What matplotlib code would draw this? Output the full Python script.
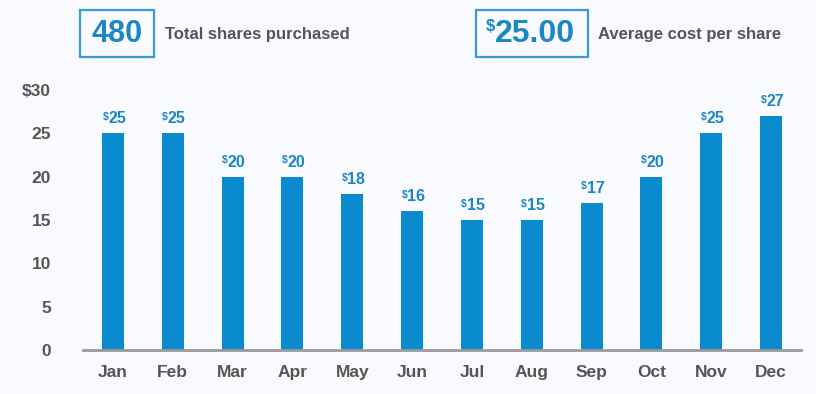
import matplotlib.pyplot as plt
from matplotlib.patches import Rectangle

months = ['Jan', 'Feb', 'Mar', 'Apr', 'May', 'Jun',
          'Jul', 'Aug', 'Sep', 'Oct', 'Nov', 'Dec']
prices = [25, 25, 20, 20, 18, 16, 15, 15, 17, 20, 25, 27]
yticks = [0, 5, 10, 15, 20, 25, 30]
ytick_labels = ['0', '5', '10', '15', '20', '25', '$30']
total_shares = '480'
avg_cost = '25.00'

W, H = 816, 394
bg = '#F8FAFD'
blue = '#0A8BD0'
label_blue = '#1C86C6'
gray = '#555555'

plt.rcParams['font.family'] = ['Liberation Sans', 'DejaVu Sans']
plt.rcParams['font.weight'] = 'bold'

fig = plt.figure(figsize=(W / 100, H / 100), dpi=100, facecolor=bg)
ax = fig.add_axes([83 / W, 1 - 350 / H, (801 - 83) / W, 260 / H])
ax.set_facecolor(bg)

x = list(range(len(months)))
ax.bar(x, prices, width=0.37, color=blue, zorder=2)
ax.set_xlim(-0.5, len(months) - 0.5)
ax.set_ylim(0, 30)

for s in ['top', 'right', 'left']:
    ax.spines[s].set_visible(False)
ax.spines['bottom'].set_color('#9a9a9a')
ax.spines['bottom'].set_linewidth(2)

ax.set_yticks(yticks)
ax.set_yticklabels(ytick_labels)
ax.set_xticks(x)
ax.set_xticklabels(months)
ax.tick_params(axis='both', length=0, labelsize=12.5, labelcolor=gray)
ax.tick_params(axis='y', pad=23)
ax.tick_params(axis='x', pad=11)

# value labels with small superscript dollar sign
for xi, v in zip(x, prices):
    t = ax.annotate(str(v), xy=(xi, v), xytext=(3, 5), textcoords='offset points',
                    ha='center', va='bottom', fontsize=11.5, color=label_blue,
                    fontweight='bold')
    ax.annotate('$', xy=(0, 0.95), xycoords=t, ha='right', va='top',
                fontsize=7.5, color=label_blue, fontweight='bold')

# header boxes
def box(x0, x1, y0, y1):
    fig.patches.append(Rectangle((x0 / W, 1 - y1 / H), (x1 - x0) / W, (y1 - y0) / H,
                                 transform=fig.transFigure, fill=False,
                                 edgecolor='#3C9BD6', linewidth=1.6))

box(80, 154, 10, 57)
fig.text(117 / W, 1 - 34 / H, total_shares, ha='center', va='center',
         fontsize=22, color=label_blue, fontweight='bold')
fig.text(165 / W, 1 - 34 / H, 'Total shares purchased', ha='left', va='center',
         fontsize=12, color=gray, fontweight='bold')

box(476, 588, 10, 57)
fig.text(495 / W, 1 - 34 / H, avg_cost, ha='left', va='center',
         fontsize=23, color=label_blue, fontweight='bold')
fig.text(495 / W, 1 - 19 / H, '$', ha='right', va='top',
         fontsize=12, color=label_blue, fontweight='bold')
fig.text(598 / W, 1 - 34 / H, 'Average cost per share', ha='left', va='center',
         fontsize=12, color=gray, fontweight='bold')

fig.savefig('out.png', dpi=100, facecolor=bg)
